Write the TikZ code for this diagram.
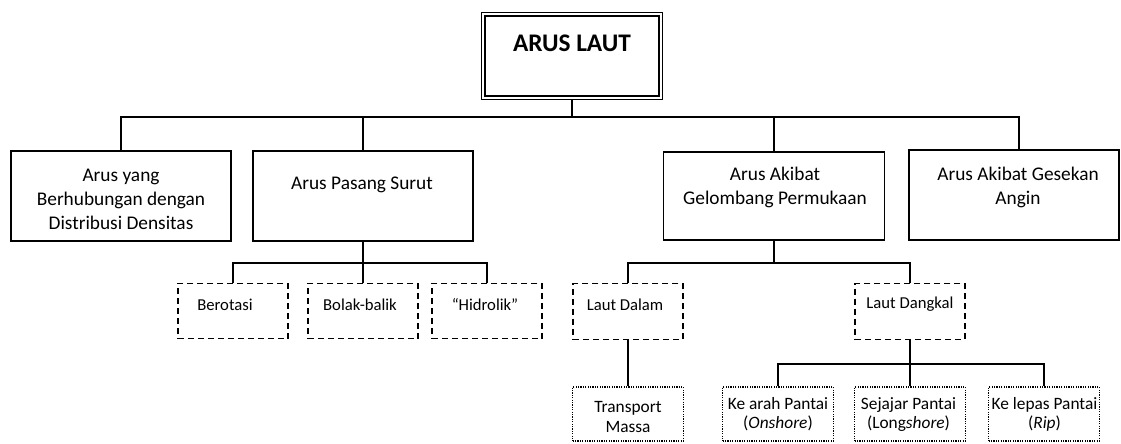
\documentclass[tikz,border=0pt]{standalone}
\usepackage{fontspec}
\setmainfont{Carlito}

\begin{document}
\begin{tikzpicture}[x=0.75pt, y=-0.75pt,
	box/.style={draw, line width=1.1pt, minimum width=165pt, minimum height=67.5pt},
	dashbox/.style={draw, line width=0.9pt, dash pattern=on 4.5pt off 3pt, minimum width=82.5pt, minimum height=41.5pt},
	dotbox/.style={draw, line width=1pt, dash pattern=on 0.9pt off 0.9pt, minimum width=83pt, minimum height=40.5pt},
	bigtxt/.style={font=\fontsize{14.5}{18}\selectfont, align=center, inner sep=0pt},
	smalltxt/.style={font=\fontsize{12.5}{15}\selectfont, align=center, inner sep=0pt},
	tinytxt/.style={font=\fontsize{13}{14.5}\selectfont, align=center, inner sep=0pt},
	link/.style={line width=0.9pt}]
	\useasboundingbox (0,0) rectangle (1121,443);

	\node[draw, double, line width=0.9pt, double distance=1.6pt, outer sep=1.7pt,
		minimum width=133pt, minimum height=62.5pt] (laut) at (572,56) {};
	\node[font=\fontsize{19}{23}\selectfont\bfseries, inner sep=0pt] (laut-t) at (572,43.5) {ARUS LAUT};

	\node[box] (densitas) at (121,196) {};
	\node[box] (pasang) at (363,196) {};
	\node[box, minimum width=165.75pt, minimum height=66pt] (gelombang) at (774,196) {};
	\node[box, minimum width=157.5pt] (angin) at (1014,195) {};
	\node[bigtxt] (densitas-t) at (121,199) {Arus yang\\Berhubungan dengan\\Distribusi Densitas};
	\node[bigtxt] (pasang-t) at (362,185) {Arus Pasang Surut};
	\node[bigtxt] (gelombang-t) at (775,187) {Arus Akibat\\Gelombang Permukaan};
	\node[bigtxt] (angin-t) at (1018,187.5) {Arus Akibat Gesekan\\Angin};

	\node[dashbox] (berotasi) at (233,311) {};
	\node[dashbox] (bolak) at (363,311) {};
	\node[dashbox] (hidrolik) at (487,311) {};
	\node[dashbox] (dalam) at (628,311.5) {};
	\node[dashbox] (dangkal) at (910,311.5) {};
	\node[smalltxt] (berotasi-t) at (225,305) {Berotasi};
	\node[smalltxt] (bolak-t) at (360,304.5) {Bolak-balik};
	\node[smalltxt] (hidrolik-t) at (485,305) {``Hidrolik''};
	\node[smalltxt] (dalam-t) at (625,304.5) {Laut Dalam};
	\node[smalltxt] (dangkal-t) at (910,304.5) {Laut Dangkal};

	\node[dotbox] (transport) at (628,414) {};
	\node[dotbox] (arah) at (778,414) {};
	\node[dotbox] (sejajar) at (910,414) {};
	\node[dotbox] (lepas) at (1044,414) {};
	\node[tinytxt] (transport-t) at (628,417) {Transport\\Massa};
	\node[tinytxt] (arah-t) at (778,414.5) {Ke arah Pantai\\(\textit{Onshore})};
	\node[tinytxt] (sejajar-t) at (908.5,414.5) {Sejajar Pantai\\(Long\textit{shore})};
	\node[tinytxt] (lepas-t) at (1044.5,414.5) {Ke lepas Pantai\\(\textit{Rip})};

	\coordinate (bus1) at (572,117);
	\coordinate (bus2) at (363,263);
	\coordinate (bus3) at (774,263);
	\coordinate (bus4) at (910,364);
	\draw[link] (laut.south) -- (bus1);
	\draw[link] (densitas.north) |- (bus1) -| ([xshift=3.75pt]angin.north);
	\draw[link] (pasang.north) -- (pasang.north |- bus1);
	\draw[link] (gelombang.north) -- (gelombang.north |- bus1);
	\draw[link] (pasang.south) -- (bolak.north);
	\draw[link] (berotasi.north) |- (bus2) -| (hidrolik.north);
	\draw[link] (gelombang.south) -- (bus3);
	\draw[link] (dalam.north) |- (bus3) -| (dangkal.north);
	\draw[link] (dalam.south) -- (transport.north);
	\draw[link] (dangkal.south) -- (bus4);
	\draw[link] (arah.north) |- (bus4) -| (lepas.north);
	\draw[link] (bus4) -- (sejajar.north);
\end{tikzpicture}
\end{document}
